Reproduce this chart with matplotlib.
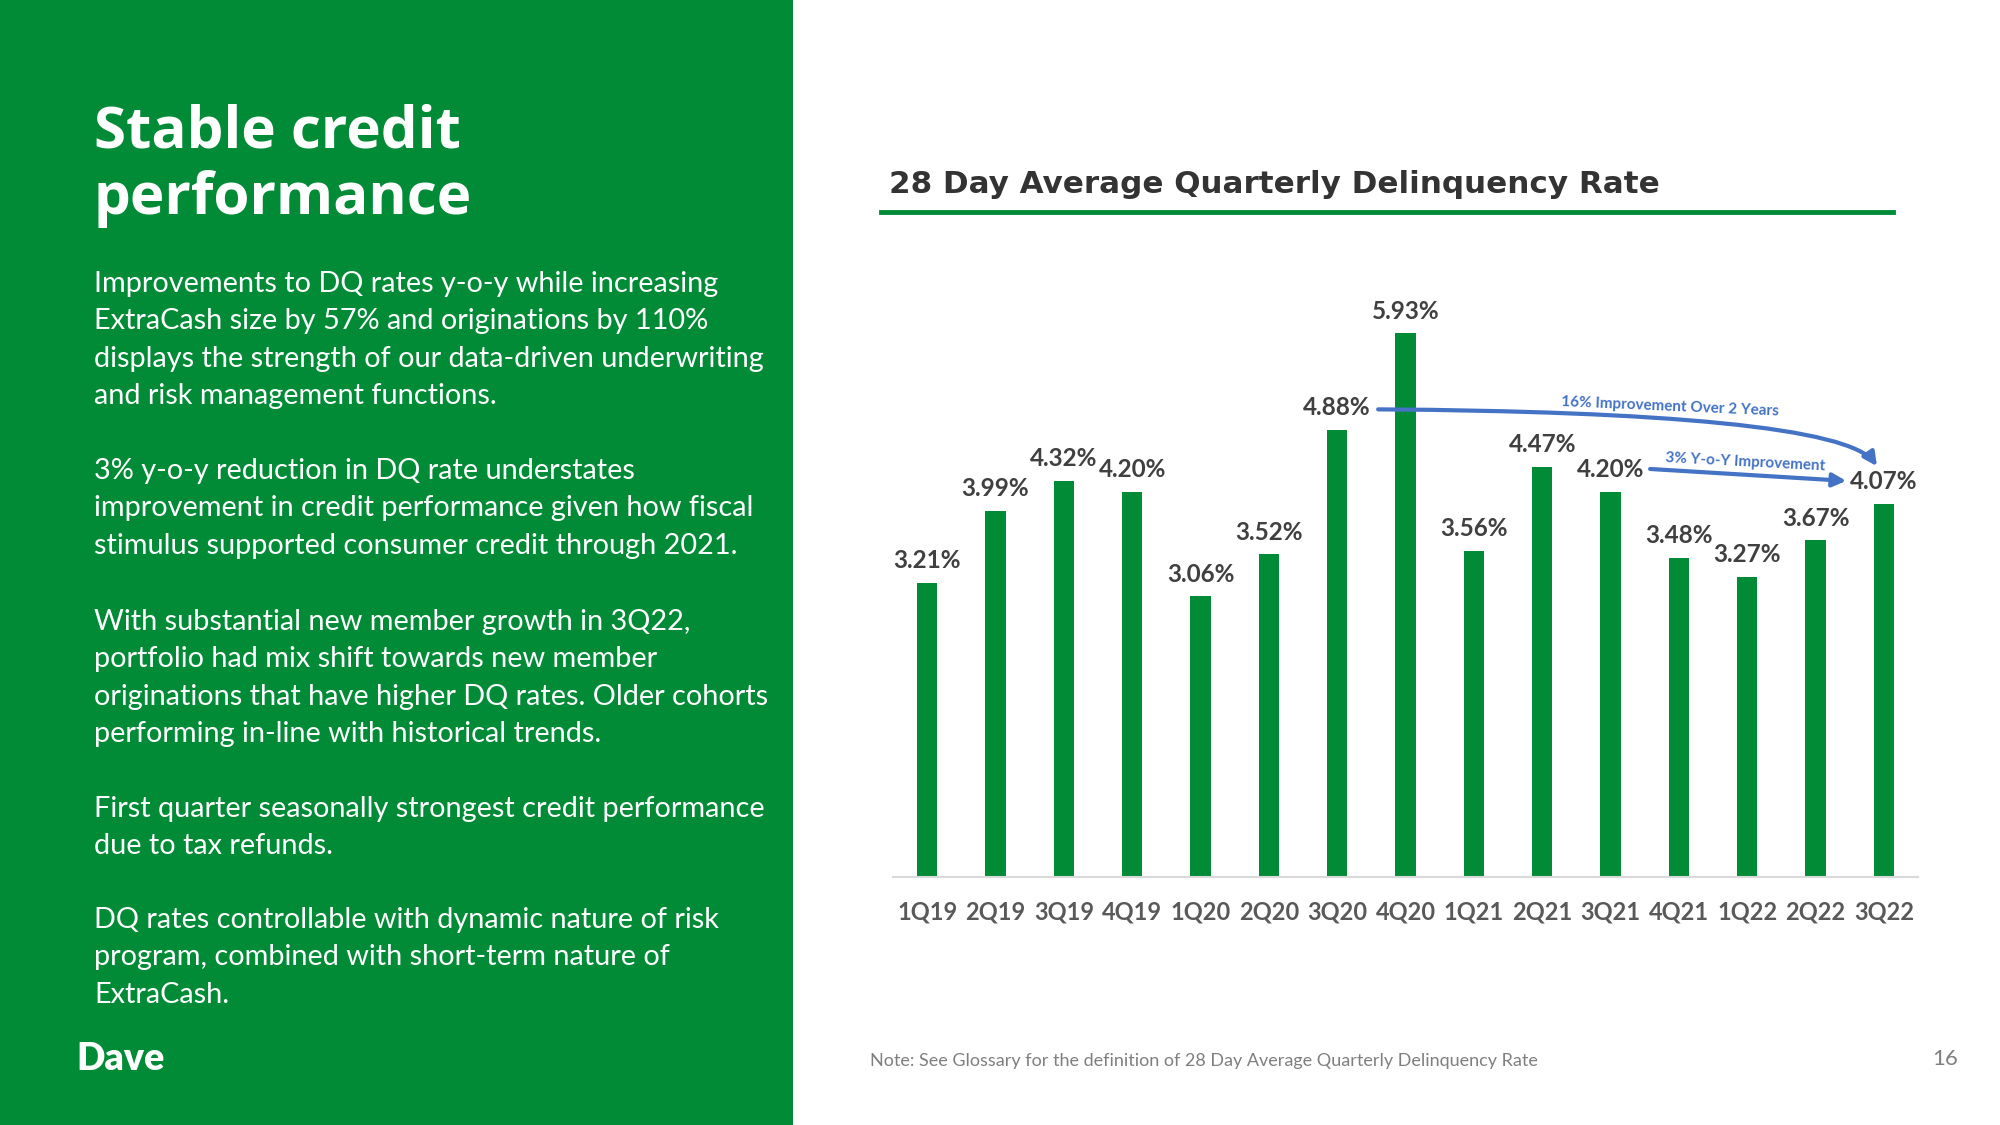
import matplotlib.pyplot as plt
from matplotlib.patches import Rectangle, FancyArrowPatch
from matplotlib.path import Path

# chart data
quarters = ['1Q19', '2Q19', '3Q19', '4Q19', '1Q20', '2Q20', '3Q20', '4Q20',
            '1Q21', '2Q21', '3Q21', '4Q21', '1Q22', '2Q22', '3Q22']
dq_rate = [3.21, 3.99, 4.32, 4.20, 3.06, 3.52, 4.88, 5.93,
           3.56, 4.47, 4.20, 3.48, 3.27, 3.67, 4.07]

title_lines = ['Stable credit', 'performance']
paragraphs = [
    ['Improvements to DQ rates y-o-y while increasing',
     'ExtraCash size by 57% and originations by 110%',
     'displays the strength of our data-driven underwriting',
     'and risk management functions.'],
    ['3% y-o-y reduction in DQ rate understates',
     'improvement in credit performance given how fiscal',
     'stimulus supported consumer credit through 2021.'],
    ['With substantial new member growth in 3Q22,',
     'portfolio had mix shift towards new member',
     'originations that have higher DQ rates. Older cohorts',
     'performing in-line with historical trends.'],
    ['First quarter seasonally strongest credit performance',
     'due to tax refunds.'],
    ['DQ rates controllable with dynamic nature of risk',
     'program, combined with short-term nature of',
     'ExtraCash.'],
]
para_top = [284, 471, 622, 809, 920]   # first-line centre, px from top

GREEN = '#018B37'
DARK = '#404040'
BLUE = '#4472C4'
W, H = 2000, 1125

fig = plt.figure(figsize=(20, 11.25), dpi=100)
fig.patch.set_facecolor('white')

# left green panel
fig.patches.append(Rectangle((0, 0), 793 / W, 1, transform=fig.transFigure,
                             facecolor=GREEN, edgecolor='none', zorder=0))

for i, line in enumerate(title_lines):
    fig.text(94 / W, 1 - (132 + i * 67) / H, line, color='white', fontsize=42,
             fontweight='bold', family='Open Sans', va='center', ha='left')

for top, lines in zip(para_top, paragraphs):
    for j, line in enumerate(lines):
        fig.text(94 / W, 1 - (top + j * 37.3) / H, line, color='white',
                 fontsize=20.8, family='Lato', va='center', ha='left')

fig.text(76 / W, 1 - 1059 / H, 'Dave', color='white', fontsize=27,
         fontweight='heavy', family='Lato', va='center', ha='left')

# chart title + underline
fig.text(889 / W, 1 - 185 / H, '28 Day Average Quarterly Delinquency Rate',
         color='#333333', fontsize=22.3, fontweight='bold', family='DejaVu Sans',
         va='center', ha='left')
fig.add_artist(plt.Line2D([881 / W, 1893 / W], [1 - 212 / H, 1 - 212 / H],
                          color=GREEN, lw=3.5, transform=fig.transFigure))

# bar chart
ax = fig.add_axes([893 / W, 1 - 877 / H, 1025 / W, 596 / H])
x = list(range(len(quarters)))
ax.bar(x, dq_rate, width=0.3, color=GREEN, zorder=2)
ax.set_xlim(-0.5, len(quarters) - 0.5)
ax.set_ylim(0, 6.5)
ax.set_xticks(x)
ax.set_xticklabels(quarters, fontsize=17, fontweight='bold', color='#595959',
                   family='Lato')
ax.tick_params(axis='x', length=0, pad=17)
ax.set_yticks([])
for s in ['top', 'left', 'right']:
    ax.spines[s].set_visible(False)
ax.spines['bottom'].set_color('#D9D9D9')
ax.spines['bottom'].set_linewidth(1.5)
ax.set_facecolor('none')

for xi, v in zip(x, dq_rate):
    ax.annotate(f'{v:.2f}%', (xi, v), xytext=(0, 16), textcoords='offset points',
                ha='center', va='center', fontsize=17.5, fontweight='bold',
                color=DARK, family='Lato')

# improvement arrows
verts = [(6.6, 5.10), (10.7, 5.08), (13.5, 4.91), (13.9, 4.48)]
codes = [Path.MOVETO, Path.CURVE4, Path.CURVE4, Path.CURVE4]
ax.add_patch(FancyArrowPatch(path=Path(verts, codes), arrowstyle='-|>',
                             mutation_scale=20, color=BLUE, lw=3, zorder=5))
ax.annotate('', xy=(13.45, 4.32), xytext=(10.58, 4.45),
            arrowprops=dict(arrowstyle='-|>', mutation_scale=20, color=BLUE,
                            lw=3, shrinkA=0, shrinkB=0))
ax.text(10.87, 5.13, '16% Improvement Over 2 Years', color=BLUE, fontsize=11,
        fontweight='bold', family='Lato', ha='center', va='center', rotation=-2.5)
ax.text(11.97, 4.52, '3% Y-o-Y Improvement', color=BLUE, fontsize=11,
        fontweight='bold', family='Lato', ha='center', va='center', rotation=-3)

# footer
fig.text(870 / W, 1 - 1061 / H,
         'Note: See Glossary for the definition of 28 Day Average Quarterly Delinquency Rate',
         color='#7F7F7F', fontsize=13, family='Lato', va='center', ha='left')
fig.text(1945 / W, 1 - 1059 / H, '16', color='#7F7F7F', fontsize=16,
         family='Lato', va='center', ha='center')

fig.savefig('out.png', dpi=100)
